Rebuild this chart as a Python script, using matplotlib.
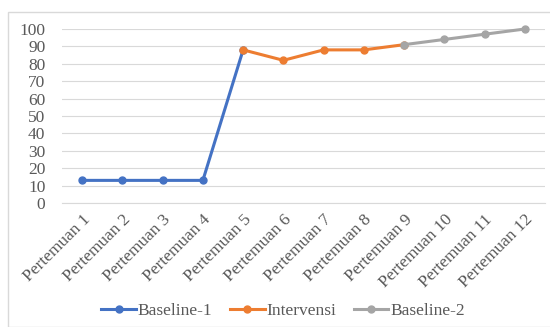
import matplotlib.pyplot as plt
from matplotlib.patches import Rectangle

plt.rcParams['font.family'] = ['Liberation Serif', 'DejaVu Serif']

labels = ["Pertemuan %d" % i for i in range(1, 13)]
baseline1 = [13, 13, 13, 13, 88]
intervensi = [88, 82, 88, 88, 91]
baseline2 = [91, 94, 97, 100]

x = list(range(12))

fig = plt.figure(figsize=(5.5, 3.27), dpi=100)
fig.patches.append(Rectangle((8 / 550, 0), 1, 1 - 12 / 327, transform=fig.transFigure,
                             fill=False, edgecolor="#d9d9d9", linewidth=1))
ax = fig.add_axes([62 / 550, 1 - 203 / 327, 483 / 550, 174 / 327])

ax.plot(x[0:5], baseline1, color="#4472c4", marker="o", markersize=5, linewidth=2.2, label="Baseline-1", clip_on=False)
ax.plot(x[4:9], intervensi, color="#ed7d31", marker="o", markersize=5, linewidth=2.2, label="Intervensi", clip_on=False)
ax.plot(x[8:12], baseline2, color="#a5a5a5", marker="o", markersize=5, linewidth=2.2, label="Baseline-2", clip_on=False)

ax.set_xlim(-0.5, 11.5)
ax.set_ylim(0, 100)
ax.set_yticks(range(0, 101, 10))
ax.set_xticks(x)
ax.set_xticklabels(labels, rotation=45, ha="right", rotation_mode="anchor")
ax.tick_params(axis="both", length=0, labelsize=12.5, colors="#595959")
ax.tick_params(axis="x", pad=6)
ax.tick_params(axis="y", pad=12)
ax.grid(axis="y", color="#d9d9d9", linewidth=0.8)
ax.set_axisbelow(True)
for s in ax.spines.values():
    s.set_visible(False)
ax.spines["bottom"].set_visible(True)
ax.spines["bottom"].set_color("#d9d9d9")

fig.legend(loc="center", bbox_to_anchor=(283 / 550, 1 - 311 / 327), ncol=3, frameon=False,
           fontsize=12.5, labelcolor="#595959", handlelength=2.0, columnspacing=1.0, handletextpad=0.1)

fig.savefig("out.png", dpi=100)
